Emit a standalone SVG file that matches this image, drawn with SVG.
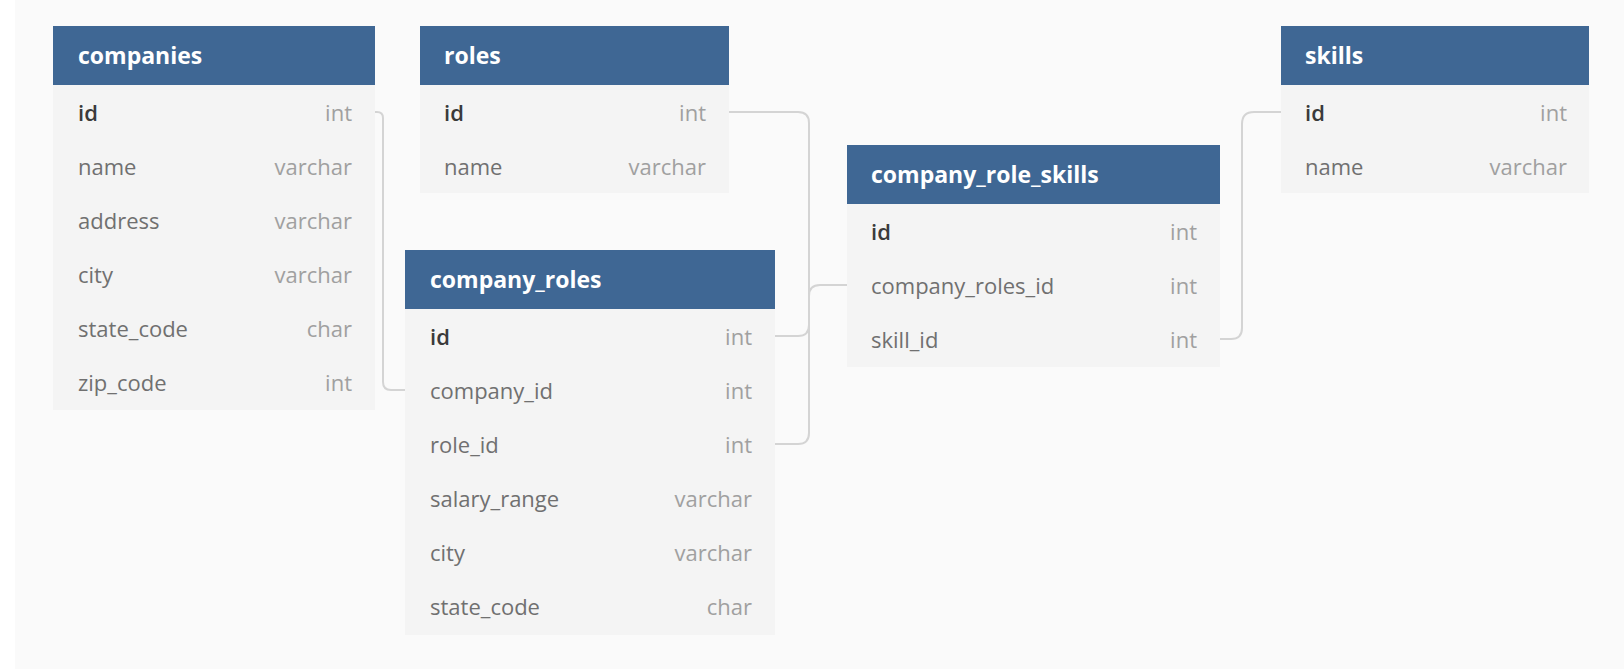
<svg xmlns="http://www.w3.org/2000/svg" width="1624" height="669" viewBox="0 0 1624 669">
<style>
.hdr{fill:#3f6794}
.body{fill:#f4f4f4}
.title{font-family:"Open Sans","Liberation Sans",sans-serif;font-weight:700;font-size:23px;fill:#ffffff}
.pk{font-family:"Open Sans","Liberation Sans",sans-serif;font-weight:600;font-size:22px;fill:#3a3a3a}
.fld{font-family:"Open Sans","Liberation Sans",sans-serif;font-size:22px;fill:#707070}
.typ{font-family:"Open Sans","Liberation Sans",sans-serif;font-size:22px;fill:#a0a0a0;text-anchor:end}
.conn{fill:none;stroke:#d4d4d4;stroke-width:2}
</style>
<rect x="0" y="0" width="1624" height="669" fill="#ffffff"/>
<rect x="15" y="0" width="1609" height="669" fill="#fafafa"/>

<g id="connectors">
<path class="conn" d="M375,112 H377 Q383,112 383,118 V382 Q383,390 391,390 H405"/>
<path class="conn" d="M729,112 H798 Q809,112 809,123 V433 Q809,444 798,444 H775"/>
<path class="conn" d="M775,336 H798 Q809,336 809,325 V296 Q809,285 820,285 H847"/>
<path class="conn" d="M1220,339 H1231 Q1242,339 1242,328 V124 Q1242,112 1254,112 H1281"/>
</g>

<g id="companies">
<rect class="body" x="53" y="85" width="322" height="325"/>
<rect class="hdr" x="53" y="26" width="322" height="59"/>
<text class="title" x="78" y="64">companies</text>
<text class="pk" x="78" y="121">id</text><text class="typ" x="352" y="121">int</text>
<text class="fld" x="78" y="175">name</text><text class="typ" x="352" y="175">varchar</text>
<text class="fld" x="78" y="229">address</text><text class="typ" x="352" y="229">varchar</text>
<text class="fld" x="78" y="283">city</text><text class="typ" x="352" y="283">varchar</text>
<text class="fld" x="78" y="337">state_code</text><text class="typ" x="352" y="337">char</text>
<text class="fld" x="78" y="391">zip_code</text><text class="typ" x="352" y="391">int</text>
</g>

<g id="roles">
<rect class="body" x="420" y="85" width="309" height="108"/>
<rect class="hdr" x="420" y="26" width="309" height="59"/>
<text class="title" x="444" y="64">roles</text>
<text class="pk" x="444" y="121">id</text><text class="typ" x="706" y="121">int</text>
<text class="fld" x="444" y="175">name</text><text class="typ" x="706" y="175">varchar</text>
</g>

<g id="company_roles">
<rect class="body" x="405" y="309" width="370" height="326"/>
<rect class="hdr" x="405" y="250" width="370" height="59"/>
<text class="title" x="430" y="288">company_roles</text>
<text class="pk" x="430" y="345">id</text><text class="typ" x="752" y="345">int</text>
<text class="fld" x="430" y="399">company_id</text><text class="typ" x="752" y="399">int</text>
<text class="fld" x="430" y="453">role_id</text><text class="typ" x="752" y="453">int</text>
<text class="fld" x="430" y="507">salary_range</text><text class="typ" x="752" y="507">varchar</text>
<text class="fld" x="430" y="561">city</text><text class="typ" x="752" y="561">varchar</text>
<text class="fld" x="430" y="615">state_code</text><text class="typ" x="752" y="615">char</text>
</g>

<g id="company_role_skills">
<rect class="body" x="847" y="204" width="373" height="163"/>
<rect class="hdr" x="847" y="145" width="373" height="59"/>
<text class="title" x="871" y="183">company_role_skills</text>
<text class="pk" x="871" y="240">id</text><text class="typ" x="1197" y="240">int</text>
<text class="fld" x="871" y="294">company_roles_id</text><text class="typ" x="1197" y="294">int</text>
<text class="fld" x="871" y="348">skill_id</text><text class="typ" x="1197" y="348">int</text>
</g>

<g id="skills">
<rect class="body" x="1281" y="85" width="308" height="108"/>
<rect class="hdr" x="1281" y="26" width="308" height="59"/>
<text class="title" x="1305" y="64">skills</text>
<text class="pk" x="1305" y="121">id</text><text class="typ" x="1567" y="121">int</text>
<text class="fld" x="1305" y="175">name</text><text class="typ" x="1567" y="175">varchar</text>
</g>
</svg>
